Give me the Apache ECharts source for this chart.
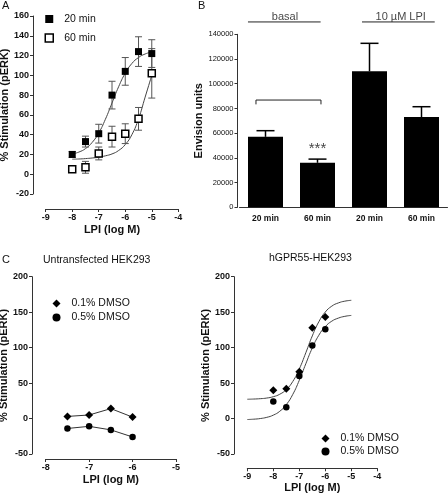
<!DOCTYPE html>
<html><head><meta charset="utf-8">
<script src="https://cdn.jsdelivr.net/npm/echarts@6/dist/echarts.min.js"></script>
<style>html,body{margin:0;padding:0;background:#fff}#c{width:448px;height:497px}</style>
</head><body><div id="c"></div>
<script>
// ---------- Panel A ----------
const xA = [-8, -7.5, -7, -6.5, -6, -5.5, -5];
const mean20 = [20, 33, 41, 80, 104, 124, 122];
const sem20 = [3, 5.5, 9.5, 14, 14, 15, 14];
const mean60 = [5, 7, 21, 38, 41, 56, 102];
const sem60 = [2, 6, 6.5, 10.5, 10, 11.5, 25];
const fitXA = [-8, -7.75, -7.5, -7.25, -7, -6.75, -6.5, -6.25, -6, -5.75, -5.5, -5.25, -5];
const fit20 = [20.4, 22.4, 25.9, 32.1, 41.7, 55.5, 72, 88.5, 102.2, 112, 118, 121.6, 123.6];
const fit60 = [15.2, 15.4, 15.8, 16.4, 17.2, 18.6, 20.5, 24, 30, 40, 56, 78, 100];
// ---------- Panel B ----------
const catsB = ['basal 20 min', 'basal 60 min', 'LPI 20 min', 'LPI 60 min'];
const tickLabelsB = ['20 min', '60 min', '20 min', '60 min'];
const barB = [57000, 36000, 110000, 73000];
const errB = [5000, 3000, 22700, 8400];
// ---------- Panel C ----------
const xC1 = [-7.5, -7, -6.5, -6];
const c1D01 = [3, 5, 14, 2];
const c1D05 = [-14, -11, -16, -26];
const xC2 = [-8, -7.5, -7, -6.5, -6];
const c2D01 = [40, 42, 66, 128, 143];
const c2D05 = [24, 16, 60, 103, 126];
const fitXC = [-9, -8.75, -8.5, -8.25, -8, -7.75, -7.5, -7.25, -7, -6.75, -6.5, -6.25, -6, -5.75, -5.5, -5.25, -5];
const fitC01 = [27.2, 27.5, 28, 28.9, 30.8, 34.3, 40.9, 52.3, 69.9, 92.7, 116.5, 136.4, 150.2, 158.5, 163, 165.5, 166.7];
const fitC05 = [-1.4, -0.9, 0, 1.7, 4.8, 10.3, 19.6, 34.1, 54, 77.2, 99.5, 117.4, 129.6, 137.3, 141.6, 144.1, 145.4];

const zip = (xs, ys) => xs.map((x, i) => [x, ys[i]]);
const FONT = "'Liberation Sans', Arial, Helvetica, sans-serif";
const AX = '#333';

function errRender(capHalf, color) {
  return function (params, api) {
    const x = api.value(0), lo = api.value(1), hi = api.value(2);
    const p1 = api.coord([x, lo]), p2 = api.coord([x, hi]);
    const style = { stroke: color, lineWidth: 1, fill: null };
    return { type: 'group', children: [
      { type: 'line', shape: { x1: p1[0], y1: p1[1], x2: p2[0], y2: p2[1] }, style: style },
      { type: 'line', shape: { x1: p1[0] - capHalf, y1: p1[1], x2: p1[0] + capHalf, y2: p1[1] }, style: style },
      { type: 'line', shape: { x1: p2[0] - capHalf, y1: p2[1], x2: p2[0] + capHalf, y2: p2[1] }, style: style }
    ]};
  };
}
function barErrRender(params, api) {
  const x = api.value(0), v = api.value(1), hi = api.value(2);
  const p1 = api.coord([x, v]), p2 = api.coord([x, hi]);
  const style = { stroke: '#000', lineWidth: 1.5, fill: null };
  return { type: 'group', children: [
    { type: 'line', shape: { x1: p1[0], y1: p1[1], x2: p2[0], y2: p2[1] }, style: style },
    { type: 'line', shape: { x1: p2[0] - 9, y1: p2[1], x2: p2[0] + 9, y2: p2[1] }, style: style }
  ]};
}

function valAxis(o) {
  return Object.assign({
    type: 'value', splitLine: { show: false },
    axisLine: { show: true, onZero: false, lineStyle: { color: AX, width: 1 } },
    axisTick: { show: true, inside: false, length: 3, lineStyle: { color: AX } },
    axisLabel: { fontFamily: FONT, fontSize: 9, fontWeight: 'bold', color: '#111', margin: 4 },
    nameLocation: 'middle',
    nameTextStyle: { fontFamily: FONT, fontSize: 11, fontWeight: 'bold', color: '#111' }
  }, o);
}

const chart = echarts.init(document.getElementById('c'), null, { renderer: 'canvas' });
const ts = { fontFamily: FONT, fontWeight: 'normal', color: '#111' };
const legText = { fontFamily: FONT, fontSize: 10.5, color: '#111', padding: [0, 0, 0, 6] };
chart.setOption({
  animation: false,
  backgroundColor: '#fff',
  title: [
    { text: 'A', left: 2, top: 0, padding: 0, textStyle: Object.assign({ fontSize: 11 }, ts) },
    { text: 'B', left: 198, top: 0, padding: 0, textStyle: Object.assign({ fontSize: 11 }, ts) },
    { text: 'C', left: 2, top: 254, padding: 0, textStyle: Object.assign({ fontSize: 11 }, ts) },
    { text: 'Untransfected HEK293', left: 43, top: 255, padding: 0, textStyle: Object.assign({ fontSize: 10.5 }, ts) },
    { text: 'hGPR55-HEK293', left: 269, top: 253, padding: 0, textStyle: Object.assign({ fontSize: 10.5 }, ts) }
  ],
  legend: [
    { orient: 'vertical', left: 44.5, top: 13.5, itemWidth: 8, itemHeight: 8, itemGap: 8, padding: 0,
      textStyle: legText,
      data: [
        { name: '20 min', icon: 'rect' },
        { name: '60 min', icon: 'rect', itemStyle: { color: '#fff', borderColor: '#000', borderWidth: 1.5 } }
      ] },
    { orient: 'vertical', left: 52.5, top: 298, itemWidth: 8, itemHeight: 8, itemGap: 3, padding: 0,
      textStyle: legText,
      data: [{ name: '0.1% DMSO', icon: 'diamond' }, { name: '0.5% DMSO', icon: 'circle' }] },
    { orient: 'vertical', left: 321.5, top: 433, itemWidth: 8, itemHeight: 8, itemGap: 2, padding: 0,
      textStyle: legText,
      data: [{ name: '0.1% DMSO', icon: 'diamond' }, { name: '0.5% DMSO', icon: 'circle' }] }
  ],
  grid: [
    { left: 45.7, top: 16, width: 132.6, height: 178, outerBoundsMode: 'none' },
    { left: 239.5, top: 34.3, width: 208, height: 173, outerBoundsMode: 'none' },
    { left: 45.7, top: 276.7, width: 130.3, height: 177.3, outerBoundsMode: 'none' },
    { left: 247.3, top: 276.7, width: 130, height: 177.3, outerBoundsMode: 'none' }
  ],
  xAxis: [
    valAxis({ gridIndex: 0, min: -9, max: -4, interval: 1, offset: 15, name: 'LPI (log M)', nameGap: 15 }),
    { type: 'category', gridIndex: 1, data: catsB, boundaryGap: true,
      axisLine: { show: true, lineStyle: { color: AX, width: 1 } }, axisTick: { show: false },
      axisLabel: { fontFamily: FONT, fontSize: 8.5, fontWeight: 'bold', color: '#111', margin: 7,
        formatter: (v, i) => tickLabelsB[i] } },
    { type: 'value', gridIndex: 1, min: -0.5, max: 3.5, show: false },
    valAxis({ gridIndex: 2, min: -8, max: -5, interval: 1, offset: 5, name: 'LPI (log M)', nameGap: 15 }),
    valAxis({ gridIndex: 3, min: -9, max: -4, interval: 1, offset: 14.3, name: 'LPI (log M)', nameGap: 14 })
  ],
  yAxis: [
    valAxis({ gridIndex: 0, min: -20, max: 160, interval: 20, offset: 12.7, name: '% Stimulation (pERK)', nameGap: 18.5 }),
    valAxis({ gridIndex: 1, min: 0, max: 140000, interval: 20000, offset: 2, name: 'Envision units', nameGap: 27,
      axisLabel: { fontFamily: FONT, fontSize: 7.5, fontWeight: 'normal', color: '#111', margin: 4,
        formatter: (v) => String(v) } }),
    valAxis({ gridIndex: 2, min: -50, max: 200, interval: 50, offset: 13.7, name: '% Stimulation (pERK)', nameGap: 18 }),
    valAxis({ gridIndex: 3, min: -50, max: 200, interval: 50, offset: 13.3, name: '% Stimulation (pERK)', nameGap: 17 })
  ],
  series: [
    // Panel A
    { type: 'line', name: 'fit20', xAxisIndex: 0, yAxisIndex: 0, data: zip(fitXA, fit20), smooth: true,
      showSymbol: false, symbol: 'none', lineStyle: { color: '#444', width: 1 }, z: 1, silent: true },
    { type: 'line', name: 'fit60', xAxisIndex: 0, yAxisIndex: 0, data: zip(fitXA, fit60), smooth: true,
      showSymbol: false, symbol: 'none', lineStyle: { color: '#444', width: 1 }, z: 1, silent: true },
    { type: 'custom', name: 'err20', xAxisIndex: 0, yAxisIndex: 0, renderItem: errRender(3.5, '#555'),
      data: xA.map((x, i) => [x, mean20[i] - sem20[i], mean20[i] + sem20[i]]), encode: { x: 0, y: [1, 2] }, z: 2, silent: true },
    { type: 'custom', name: 'err60', xAxisIndex: 0, yAxisIndex: 0, renderItem: errRender(3.5, '#555'),
      data: xA.map((x, i) => [x, mean60[i] - sem60[i], mean60[i] + sem60[i]]), encode: { x: 0, y: [1, 2] }, z: 2, silent: true },
    { type: 'scatter', name: '20 min', xAxisIndex: 0, yAxisIndex: 0, data: zip(xA, mean20), symbol: 'rect', symbolSize: 7,
      itemStyle: { color: '#000', opacity: 1 }, z: 3 },
    { type: 'scatter', name: '60 min', xAxisIndex: 0, yAxisIndex: 0, data: zip(xA, mean60), symbol: 'rect', symbolSize: 7,
      itemStyle: { color: '#fff', borderColor: '#000', borderWidth: 1.5, opacity: 1 }, z: 3 },
    // Panel B
    { type: 'bar', name: 'envision', xAxisIndex: 1, yAxisIndex: 1, data: barB, barWidth: 35,
      itemStyle: { color: '#000' }, z: 2 },
    { type: 'custom', name: 'errB', xAxisIndex: 1, yAxisIndex: 1, renderItem: barErrRender,
      data: barB.map((v, i) => [i, v, v + errB[i]]), encode: { x: 0, y: [1, 2] }, z: 1, silent: true },
    { type: 'line', name: 'basalLine', xAxisIndex: 2, yAxisIndex: 1, clip: false, symbol: 'none', silent: true,
      data: [[-0.337, 150000], [1.06, 150000]], lineStyle: { color: '#222', width: 1 } },
    { type: 'line', name: 'lpiLine', xAxisIndex: 2, yAxisIndex: 1, clip: false, symbol: 'none', silent: true,
      data: [[1.856, 150000], [3.254, 150000]], lineStyle: { color: '#222', width: 1 } },
    { type: 'line', name: 'bracket', xAxisIndex: 2, yAxisIndex: 1, clip: false, symbol: 'none', silent: true,
      data: [[-0.183, 83300], [-0.183, 86800], [1.067, 86800], [1.067, 83300]], lineStyle: { color: '#222', width: 1 } },
    { type: 'scatter', name: 'annot', xAxisIndex: 2, yAxisIndex: 1, clip: false, symbolSize: 0, silent: true,
      data: [
        { name: 'basal', value: [0.375, 154000] },
        { name: '10 µM LPI', value: [2.6, 154000] }
      ],
      label: { show: true, position: 'inside', formatter: '{b}', fontFamily: FONT, fontSize: 11, color: '#111' } },
    { type: 'scatter', name: 'stars', xAxisIndex: 2, yAxisIndex: 1, clip: false, symbolSize: 0, silent: true,
      data: [{ name: '***', value: [1.0, 47500] }],
      label: { show: true, position: 'inside', formatter: '{b}', fontFamily: FONT, fontSize: 15, color: '#111' } },
    // Panel C left
    { type: 'line', name: '0.1% DMSO', xAxisIndex: 3, yAxisIndex: 2, data: zip(xC1, c1D01), symbol: 'diamond', symbolSize: 8,
      itemStyle: { color: '#000', opacity: 1 }, lineStyle: { color: '#333', width: 1 }, z: 3 },
    { type: 'line', name: '0.5% DMSO', xAxisIndex: 3, yAxisIndex: 2, data: zip(xC1, c1D05), symbol: 'circle', symbolSize: 6.5,
      itemStyle: { color: '#000', opacity: 1 }, lineStyle: { color: '#333', width: 1 }, z: 3 },
    // Panel C right
    { type: 'line', name: 'fitC01', xAxisIndex: 4, yAxisIndex: 3, data: zip(fitXC, fitC01), smooth: true,
      showSymbol: false, symbol: 'none', lineStyle: { color: '#444', width: 1 }, z: 1, silent: true },
    { type: 'line', name: 'fitC05', xAxisIndex: 4, yAxisIndex: 3, data: zip(fitXC, fitC05), smooth: true,
      showSymbol: false, symbol: 'none', lineStyle: { color: '#444', width: 1 }, z: 1, silent: true },
    { type: 'scatter', name: '0.1% DMSO', xAxisIndex: 4, yAxisIndex: 3, data: zip(xC2, c2D01), symbol: 'diamond', symbolSize: 8,
      itemStyle: { color: '#000', opacity: 1 }, z: 3 },
    { type: 'scatter', name: '0.5% DMSO', xAxisIndex: 4, yAxisIndex: 3, data: zip(xC2, c2D05), symbol: 'circle', symbolSize: 6.5,
      itemStyle: { color: '#000', opacity: 1 }, z: 3 }
  ]
});
</script></body></html>
